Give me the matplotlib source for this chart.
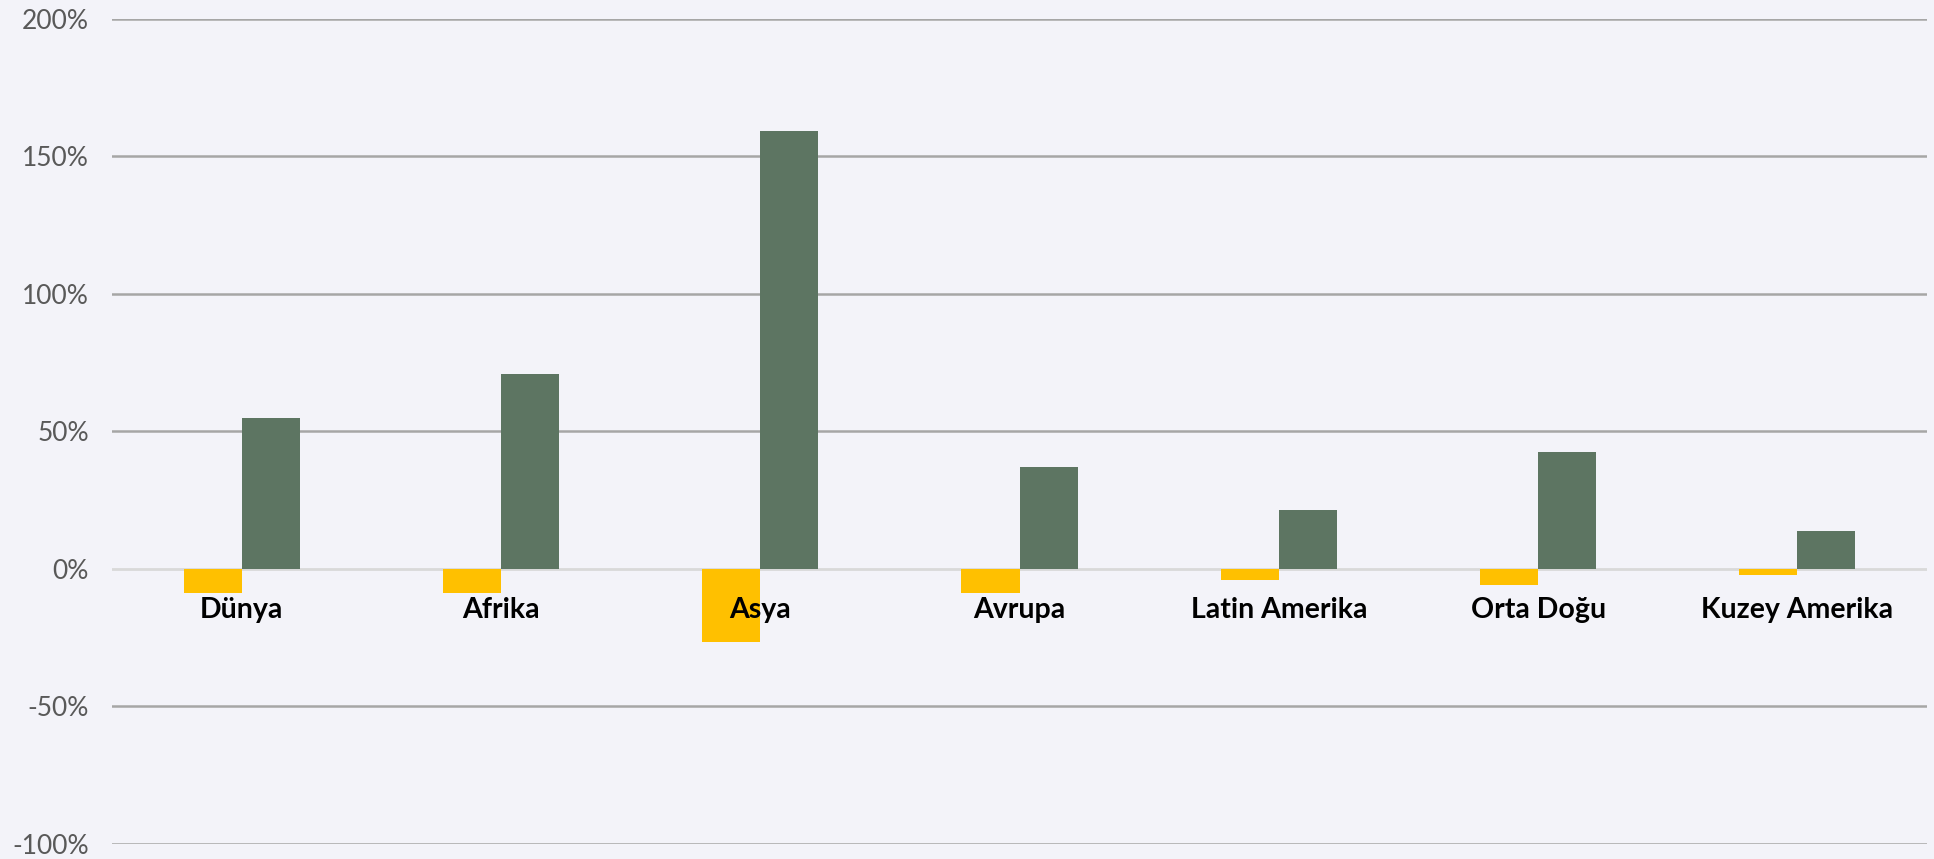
import matplotlib
matplotlib.use("Agg")
import matplotlib.pyplot as plt
import numpy as np

categories = ["Dünya", "Afrika", "Asya", "Avrupa", "Latin Amerika", "Orta Doğu", "Kuzey Amerika"]
series_orange = [-8.7, -8.7, -26.5, -8.7, -4.0, -5.7, -2.2]
series_green = [54.7, 71.0, 159.0, 37.2, 21.4, 42.4, 13.8]
yticks = [-100, -50, 0, 50, 100, 150, 200]
ytick_labels = ["-100%", "-50%", "0%", "50%", "100%", "150%", "200%"]

BG = "#F3F3F9"
ORANGE = "#FFC000"
GREEN = "#5D7562"

fig = plt.figure(figsize=(19.34, 8.59), dpi=100, facecolor=BG)
ax = fig.add_axes([0.0579, 0.0175, 0.9385, 0.9608])
ax.set_facecolor(BG)

x = np.arange(len(categories))
w = 0.224
ax.bar(x - w / 2, series_orange, width=w, color=ORANGE, zorder=3)
ax.bar(x + w / 2, series_green, width=w, color=GREEN, zorder=3)

ax.set_xlim(-0.5, len(categories) - 0.5)
ax.set_ylim(-100, 200)
ax.set_yticks(yticks)
ax.set_yticklabels(ytick_labels, fontsize=19, color="#595959", family=["Lato", "DejaVu Sans"])
ax.tick_params(axis="y", length=0, pad=16.5)
ax.set_xticks([])

for yv in yticks:
    if yv == 0:
        ax.axhline(yv, color="#D9D9D9", lw=2, zorder=2)
    else:
        ax.axhline(yv, color="#A6A6A6", lw=1.8, zorder=1)

for s in ax.spines.values():
    s.set_visible(False)

for xi, lab in zip(x, categories):
    ax.text(xi, -14.8, lab, ha="center", va="center", fontsize=20.5,
            fontweight="bold", color="black", family=["Lato", "DejaVu Sans"], zorder=5)

fig.savefig("out.png", dpi=100, facecolor=BG)
